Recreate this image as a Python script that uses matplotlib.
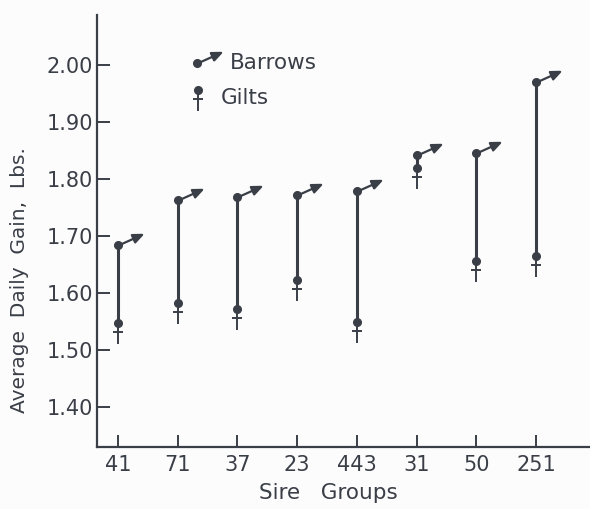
import numpy as np
import matplotlib
matplotlib.use("Agg")
from matplotlib import pyplot as plt
from matplotlib.path import Path

sire_groups = ["41", "71", "37", "23", "443", "31", "50", "251"]
barrows = [1.684, 1.763, 1.768, 1.772, 1.780, 1.843, 1.846, 1.970]
gilts = [1.547, 1.582, 1.572, 1.623, 1.549, 1.819, 1.656, 1.665]
y_ticks = [1.40, 1.50, 1.60, 1.70, 1.80, 1.90, 2.00]

ink = "#3a3e47"
paper = "#fcfcfc"


def arrow_marker():
    # line from the dot up to the right, filled head at the end
    tip = np.array([1.0, 0.45])
    u = tip / np.linalg.norm(tip)
    n = np.array([-u[1], u[0]])
    base = tip - 0.40 * u
    verts = [(0, 0), tuple(base),
             tuple(tip), tuple(base + 0.17 * n), tuple(base - 0.17 * n), tuple(tip)]
    codes = [Path.MOVETO, Path.LINETO,
             Path.MOVETO, Path.LINETO, Path.LINETO, Path.CLOSEPOLY]
    return Path(verts, codes)


def cross_marker():
    # stem below the dot with a cross bar
    verts = [(0, 0), (0, -1.0), (-0.26, -0.42), (0.26, -0.42)]
    codes = [Path.MOVETO, Path.LINETO, Path.MOVETO, Path.LINETO]
    return Path(verts, codes)


def barrow(ax, xs, ys, **kw):
    ax.plot(xs, ys, ls="none", marker=arrow_marker(), ms=34, mec=ink, mfc=ink, mew=1.6, **kw)
    ax.plot(xs, ys, ls="none", marker="o", ms=5.5, color=ink, **kw)


def gilt(ax, xs, ys, **kw):
    ax.plot(xs, ys, ls="none", marker=cross_marker(), ms=30, mec=ink, mfc="none", mew=1.4, **kw)
    ax.plot(xs, ys, ls="none", marker="o", ms=5.5, color=ink, **kw)


fig = plt.figure(figsize=(5.9, 5.09), dpi=100, facecolor=paper)
ax = fig.add_axes([97 / 590, 1 - 447 / 509, 493 / 590, 432 / 509])
ax.set_facecolor(paper)

x = np.arange(len(sire_groups))

ax.vlines(x, gilts, barrows, color=ink, lw=2.2)
gilt(ax, x, gilts)
barrow(ax, x, barrows)

# key, drawn in axes coordinates
barrow(ax, [0.203], [0.889], transform=ax.transAxes, clip_on=False)
gilt(ax, [0.205], [0.826], transform=ax.transAxes, clip_on=False)
ax.text(0.270, 0.889, "Barrows", transform=ax.transAxes, fontsize=15.5,
        color=ink, va="center", ha="left")
ax.text(0.252, 0.808, "Gilts", transform=ax.transAxes, fontsize=15.5,
        color=ink, va="center", ha="left")

ax.set_xlim(-0.35, 7.9)
ax.set_ylim(1.33, 2.088)
ax.set_xticks(x)
ax.set_xticklabels(sire_groups)
ax.set_yticks(y_ticks)
ax.set_yticklabels([f"{v:.2f}" for v in y_ticks])

for side in ["top", "right"]:
    ax.spines[side].set_visible(False)
for side in ["left", "bottom"]:
    ax.spines[side].set_linewidth(1.6)
    ax.spines[side].set_color(ink)

ax.tick_params(axis="both", direction="in", length=9, width=1.4, colors=ink,
               labelsize=15, labelcolor=ink)
ax.tick_params(axis="y", pad=3)
ax.tick_params(axis="x", pad=6)

ax.set_ylabel("Average  Daily  Gain,  Lbs.", fontsize=14.5, color=ink)
ax.yaxis.set_label_coords(-0.138, 0.387)
ax.set_xlabel("Sire   Groups", fontsize=15.5, color=ink)
ax.xaxis.set_label_coords(0.469, -0.084)

fig.savefig("out.png", dpi=100, facecolor=paper)
